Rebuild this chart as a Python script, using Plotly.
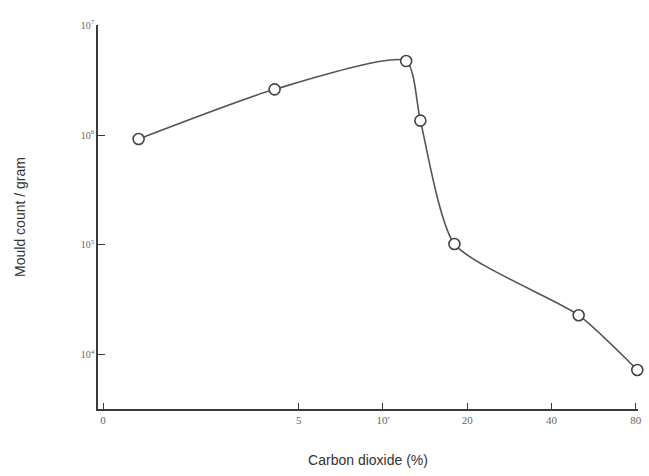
import plotly.graph_objects as go

# Data (x: CO2 %, y: mould count per gram)
co2 = [1.34, 4.1, 12.1, 13.6, 18.0, 50.0, 81.0]
mould = [9.2e5, 2.6e6, 4.7e6, 1.35e6, 1.02e5, 2.3e4, 7.3e3]

x_tickvals = [1, 5, 10, 20, 40, 80]
x_ticktext = ["0", "5", "10'", "20", "40", "80"]
y_tickvals = [1e4, 1e5, 1e6, 1e7]
y_ticktext = ["10<sup>4</sup>", "10<sup>5</sup>", "10<sup>6</sup>", "10<sup>7</sup>"]

ink = "#3a3a3a"

fig = go.Figure()
fig.add_trace(go.Scatter(
    x=co2, y=mould,
    mode="lines+markers",
    line=dict(color="#555555", width=1.6, shape="spline", smoothing=0.6),
    marker=dict(symbol="circle", size=11, color="white",
                line=dict(color="#444444", width=1.6)),
    showlegend=False,
    cliponaxis=False,
))

fig.update_layout(
    width=649, height=476,
    margin=dict(l=98, r=7, t=25, b=67),
    paper_bgcolor="white", plot_bgcolor="white",
    font=dict(family="Liberation Serif", color="#555555"),
)
fig.update_xaxes(
    type="log", range=[-0.018, 1.911], autorange=False,
    tickvals=x_tickvals, ticktext=x_ticktext,
    ticks="inside", ticklen=6, tickwidth=1.2, tickcolor=ink,
    showline=True, linecolor=ink, linewidth=1.6,
    showgrid=False, zeroline=False,
    tickfont=dict(family="Liberation Serif", size=11, color="#666666"),
    title=dict(text="Carbon dioxide (%)", standoff=30,
               font=dict(family="Liberation Sans", size=14, color="#333333")),
)
fig.update_yaxes(
    type="log", range=[3.509, 7.0], autorange=False,
    tickvals=y_tickvals, ticktext=y_ticktext,
    ticks="inside", ticklen=7, tickwidth=1.2, tickcolor=ink,
    showline=True, linecolor=ink, linewidth=1.6,
    showgrid=False, zeroline=False,
    tickfont=dict(family="Liberation Serif", size=10, color="#666666"),
    title=dict(text="Mould count / gram", standoff=52,
               font=dict(family="Liberation Sans", size=14, color="#333333")),
)

fig.write_html("out.html", config={"displayModeBar": False},
               post_script="document.body.style.margin='0';")
